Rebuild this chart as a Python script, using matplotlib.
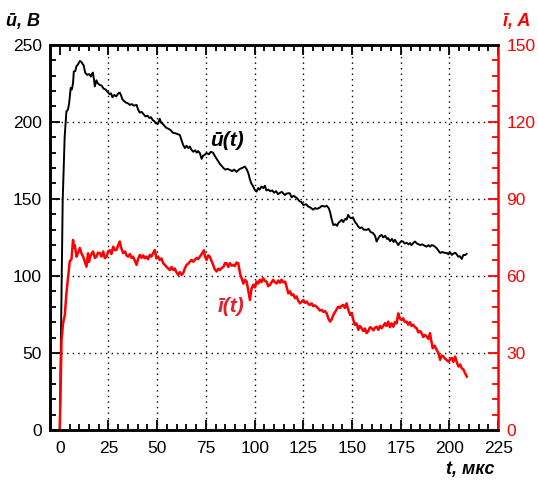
import matplotlib
matplotlib.use("Agg")
import matplotlib.pyplot as plt
from matplotlib.ticker import MultipleLocator

plt.rcParams["font.family"] = ["Liberation Sans", "DejaVu Sans"]

# voltage u(t), V
t_u = [0.0, 1.5, 2.5, 3.4, 4.2, 4.8, 5.6, 6.2, 6.8, 7.2, 8.0, 8.5, 9.2, 10.3, 11.0, 11.5,
       12.3, 13.0, 14.0, 15.0, 16.0, 16.5, 17.0, 17.5, 18.0, 18.8, 19.5, 20.5, 21.5, 22.5,
       23.5, 24.8, 25.5, 26.3, 27.0, 28.0, 29.0, 30.0, 30.8, 31.5, 32.2, 33.0, 34.0, 35.0,
       36.0, 37.0, 38.0, 39.4, 40.2, 41.0, 42.0, 43.0, 44.0, 45.0, 46.0, 46.8, 47.8, 48.5,
       49.3, 50.5, 51.3, 52.0, 53.0, 54.0, 54.8, 55.8, 57.0, 58.0, 59.5, 60.5, 61.6, 62.5,
       63.3, 64.2, 65.0, 66.0, 66.8, 67.5, 68.5, 69.5, 70.3, 71.0, 71.9, 72.8, 73.5, 74.3,
       75.3, 76.5, 77.5, 78.7, 79.5, 80.5, 81.3, 82.0, 83.0, 84.0, 85.0, 86.0, 87.3, 88.5,
       89.5, 90.7, 91.5, 92.5, 93.5, 95.0, 96.0, 96.8, 97.5, 98.3, 99.3, 100.0, 101.0,
       101.8, 102.5, 103.5, 104.5, 105.3, 106.0, 107.0, 108.0, 109.0, 110.0, 111.0, 112.0,
       113.0, 114.0, 115.5, 116.5, 118.0, 119.0, 120.0, 121.7, 123.0, 124.0, 125.0, 126.5,
       127.5, 128.5, 130.0, 131.0, 132.0, 133.4, 134.5, 136.0, 137.0, 138.0, 138.7, 139.5,
       140.4, 141.5, 142.3, 143.0, 144.0, 144.7, 145.5, 146.5, 147.2, 148.0, 148.8, 149.6,
       150.5, 151.5, 152.5, 153.2, 154.0, 155.0, 156.0, 157.5, 158.5, 159.5, 160.8, 161.8,
       162.6, 163.5, 164.3, 165.2, 166.0, 167.0, 168.0, 168.6, 169.5, 170.5, 171.3, 172.0,
       173.0, 173.7, 174.5, 175.3, 176.2, 177.0, 178.0, 179.0, 179.7, 180.5, 181.5, 182.3,
       183.3, 184.2, 184.9, 186.0, 187.3, 188.3, 189.2, 190.0, 190.9, 192.0, 193.4, 194.3,
       195.2, 196.3, 197.5, 198.6, 199.5, 200.2, 201.2, 202.0, 203.0, 203.7, 204.5, 205.3,
       206.3, 207.1, 208.0, 208.8]
u_vals = [0.0, 149.0, 190.0, 206.7, 208.0, 212.0, 222.0, 221.0, 225.0, 232.7, 233.0, 236.0,
          237.0, 239.5, 239.0, 238.0, 236.5, 232.0, 230.5, 231.0, 229.4, 231.0, 232.0, 228.0,
          223.0, 227.0, 225.0, 224.0, 223.5, 221.5, 221.0, 219.0, 218.0, 218.5, 216.0, 217.5,
          216.5, 218.5, 219.0, 217.0, 214.5, 213.5, 212.5, 212.0, 211.0, 211.5, 210.5, 211.0,
          208.0, 206.0, 206.5, 205.0, 203.5, 204.0, 202.5, 203.0, 201.0, 200.5, 199.0, 199.0,
          202.0, 199.5, 198.5, 197.0, 196.0, 195.5, 194.5, 193.0, 192.5, 192.0, 191.5, 188.0,
          185.0, 183.0, 184.5, 183.0, 184.0, 182.0, 180.6, 181.5, 180.0, 181.0, 179.7, 176.0,
          178.0, 178.5, 179.7, 179.0, 180.5, 180.0, 178.0, 176.0, 174.5, 173.0, 171.5, 170.0,
          169.0, 169.5, 168.8, 168.0, 169.0, 167.5, 168.5, 169.5, 170.0, 171.0, 169.0, 166.6,
          163.0, 160.0, 158.0, 156.0, 154.7, 157.0, 156.0, 158.0, 157.0, 158.5, 155.5, 156.0,
          155.0, 155.5, 154.0, 155.0, 153.0, 154.0, 154.5, 152.5, 153.5, 153.7, 151.0, 152.0,
          150.5, 148.5, 148.0, 146.0, 146.5, 145.0, 144.5, 143.0, 144.0, 143.5, 144.3, 145.5,
          145.0, 145.5, 144.0, 141.6, 137.0, 133.0, 133.5, 132.5, 134.4, 135.5, 136.4, 135.0,
          137.0, 136.5, 139.6, 138.0, 137.5, 138.0, 135.0, 133.5, 132.0, 131.0, 131.5, 130.0,
          129.9, 130.5, 128.5, 127.8, 126.0, 122.3, 124.5, 126.0, 126.6, 125.0, 126.0, 124.0,
          124.5, 122.5, 124.0, 122.0, 123.4, 121.5, 120.0, 121.5, 122.5, 122.3, 121.0, 121.5,
          120.5, 121.3, 120.0, 121.5, 122.3, 121.0, 120.5, 120.0, 120.5, 119.5, 119.0, 120.0,
          119.0, 120.0, 119.5, 118.0, 116.5, 114.9, 115.5, 115.0, 114.9, 114.0, 115.5, 113.6,
          114.5, 115.0, 114.0, 112.5, 112.8, 111.0, 113.6, 113.5, 114.3]

# current i(t), A
t_i = [0.0, 0.9, 1.7, 2.6, 3.4, 4.3, 5.1, 6.0, 6.8, 7.3, 7.7, 8.6, 9.4, 10.3, 11.0, 12.0,
       12.8, 13.7, 14.5, 15.0, 15.4, 16.2, 17.1, 18.0, 18.8, 19.6, 20.5, 21.4, 22.3, 23.1,
       24.0, 24.8, 25.7, 26.5, 27.4, 28.2, 29.1, 30.0, 30.8, 31.5, 32.5, 33.5, 34.2, 35.1,
       36.0, 36.8, 37.6, 38.5, 39.4, 40.2, 41.1, 42.0, 42.8, 43.6, 44.5, 45.3, 46.2, 47.0,
       48.0, 48.8, 49.6, 50.5, 51.3, 52.2, 53.1, 53.9, 54.8, 55.6, 56.5, 57.3, 58.2, 59.0,
       59.8, 60.8, 61.6, 62.5, 63.3, 64.2, 65.1, 66.0, 66.8, 67.6, 68.5, 69.3, 70.2, 71.0,
       71.9, 72.8, 74.0, 74.6, 75.3, 76.2, 77.0, 77.8, 78.7, 79.6, 80.5, 81.3, 82.2, 83.0,
       84.0, 84.8, 85.6, 86.5, 87.3, 88.2, 89.0, 89.8, 90.7, 91.6, 92.5, 93.3, 94.2, 95.0,
       95.9, 96.8, 97.6, 98.4, 99.3, 100.2, 101.0, 101.8, 102.7, 103.5, 104.4, 105.3, 106.1,
       107.0, 107.9, 108.7, 109.5, 110.4, 111.3, 112.1, 113.0, 113.8, 114.7, 115.6, 116.5,
       117.3, 118.2, 119.0, 119.9, 120.7, 121.5, 122.4, 123.3, 124.2, 125.0, 125.9, 126.7,
       127.6, 128.4, 129.3, 130.1, 131.0, 131.8, 132.7, 133.5, 134.4, 135.3, 136.1, 137.0,
       137.8, 138.7, 139.5, 140.4, 141.3, 142.1, 143.0, 143.8, 144.6, 145.5, 146.3, 147.2,
       148.0, 149.0, 149.8, 150.6, 151.5, 152.3, 153.2, 154.0, 154.9, 155.8, 156.6, 157.5,
       158.3, 159.2, 160.1, 161.0, 161.8, 162.6, 163.5, 164.3, 165.2, 166.0, 166.9, 167.7,
       168.6, 169.4, 170.3, 171.2, 172.0, 172.9, 173.7, 174.5, 175.4, 176.2, 177.1, 178.0,
       178.8, 179.7, 180.5, 181.4, 182.3, 183.2, 184.0, 184.9, 185.7, 186.6, 187.4, 188.3,
       189.2, 190.0, 190.7, 191.4, 192.4, 193.4, 194.3, 195.2, 196.0, 196.9, 197.7, 198.6,
       199.5, 200.3, 201.2, 202.0, 202.9, 203.7, 204.6, 205.5, 206.3, 207.2, 208.0, 208.9]
i_vals = [0.0, 35.0, 41.6, 44.8, 53.2, 59.7, 65.6, 66.5, 74.0, 71.0, 72.0, 67.5, 69.0, 70.9,
          69.0, 67.5, 65.6, 63.6, 68.8, 65.5, 66.8, 68.5, 69.5, 67.0, 67.5, 69.0, 68.9, 67.5,
          69.5, 66.9, 67.5, 69.5, 70.0, 68.5, 71.4, 70.0, 70.1, 72.0, 73.4, 71.0, 68.9, 69.5,
          68.0, 67.5, 68.5, 67.0, 67.5, 66.0, 64.3, 66.5, 68.2, 67.0, 68.0, 66.9, 67.5, 66.5,
          68.2, 67.5, 69.0, 70.1, 66.8, 67.5, 66.2, 66.8, 64.9, 64.3, 63.5, 62.9, 62.3, 63.5,
          62.3, 62.9, 61.5, 60.4, 61.5, 60.4, 61.0, 63.0, 64.3, 64.8, 65.6, 66.2, 65.5, 66.2,
          67.0, 66.5, 67.5, 68.5, 70.0, 67.5, 66.2, 68.0, 67.5, 66.0, 64.3, 62.5, 61.7, 62.8,
          62.3, 63.0, 63.5, 65.0, 64.9, 63.5, 65.0, 64.0, 64.3, 63.8, 65.2, 64.9, 61.0, 59.1,
          57.0, 58.5, 57.8, 54.0, 50.6, 55.0, 56.6, 55.5, 57.8, 57.0, 58.5, 57.5, 59.1, 58.0,
          57.8, 56.0, 56.5, 57.5, 58.5, 57.5, 57.1, 58.2, 57.3, 58.5, 57.5, 57.8, 55.5, 53.2,
          54.0, 52.5, 52.8, 51.3, 52.0, 50.3, 49.3, 50.0, 50.6, 49.5, 50.0, 49.0, 48.7, 49.3,
          48.2, 48.5, 48.0, 47.3, 46.5, 46.8, 46.0, 46.3, 45.4, 43.5, 42.2, 43.0, 44.8, 46.0,
          47.0, 48.0, 47.5, 48.3, 48.7, 47.5, 49.3, 47.0, 44.8, 45.5, 43.0, 40.9, 41.5, 39.0,
          40.5, 39.6, 38.5, 39.5, 37.7, 38.5, 40.0, 39.6, 38.8, 39.8, 40.2, 39.0, 40.5, 39.6,
          40.5, 41.6, 40.5, 42.2, 40.0, 41.5, 40.2, 42.0, 41.5, 45.4, 43.5, 42.8, 43.5, 42.0,
          42.2, 41.0, 42.0, 40.5, 41.0, 40.0, 39.6, 38.0, 38.5, 37.7, 36.2, 37.0, 36.4, 35.5,
          37.7, 34.5, 31.8, 32.8, 31.2, 30.0, 27.3, 29.0, 28.6, 27.8, 27.2, 26.6, 27.5, 28.0,
          26.5, 28.6, 26.5, 24.7, 25.5, 24.0, 23.5, 22.1, 20.8]

RED = "#ff0000"

fig = plt.figure(figsize=(5.38, 4.82), dpi=100)
ax = fig.add_axes([0.093, 0.108, 0.833, 0.799])
ax2 = ax.twinx()

ax.plot(t_u, u_vals, color="black", linewidth=1.4)
ax2.plot(t_i, i_vals, color=RED, linewidth=1.8)

ax.set_xlim(-5, 225)
ax.set_ylim(0, 250)
ax2.set_ylim(0, 150)

ax.xaxis.set_major_locator(MultipleLocator(25))
ax.xaxis.set_minor_locator(MultipleLocator(5))
ax.yaxis.set_major_locator(MultipleLocator(50))
ax.yaxis.set_minor_locator(MultipleLocator(10))
ax2.yaxis.set_major_locator(MultipleLocator(30))
ax2.yaxis.set_minor_locator(MultipleLocator(6))

ax.tick_params(axis="x", which="both", direction="in", top=True, bottom=True,
               labelsize=12.5, width=1.3, pad=8)
ax.tick_params(axis="x", which="major", length=7)
ax.tick_params(axis="x", which="minor", length=4)
ax.tick_params(axis="y", which="both", direction="in", right=False,
               labelsize=12.5, width=1.3, pad=6)
ax.tick_params(axis="y", which="major", length=7)
ax.tick_params(axis="y", which="minor", length=4)
ax2.tick_params(axis="y", which="both", direction="in", colors=RED,
                labelsize=12.5, width=1.3, pad=6)
ax2.tick_params(axis="y", which="major", length=7)
ax2.tick_params(axis="y", which="minor", length=4)

ax.set_xticks([0, 25, 50, 75, 100, 125, 150, 175, 200, 225])

# dotted grid
for x in range(25, 225, 25):
    ax.axvline(x, color="black", linestyle=(0, (1, 3)), linewidth=1.0, zorder=0)
for y in range(50, 250, 50):
    ax.axhline(y, color="black", linestyle=(0, (1, 3)), linewidth=1.0, zorder=0)

for side in ["left", "top", "bottom"]:
    ax.spines[side].set_linewidth(1.8)
    ax2.spines[side].set_linewidth(1.8)
ax2.spines["right"].set_color(RED)
ax2.spines["right"].set_linewidth(1.8)
ax.spines["right"].set_visible(False)

lbl = dict(fontsize=13, fontweight="bold", style="italic")
fig.text(0.012, 0.955, "ū, B", color="black", ha="left", va="center", **lbl)
fig.text(0.985, 0.955, "ī, A", color=RED, ha="right", va="center", **lbl)
fig.text(0.92, 0.025, "t, мкс", color="black", ha="right", va="center", **lbl)

ax.text(86, 188, "ū(t)", color="black", ha="center", va="center",
        fontsize=15, fontweight="bold", style="italic")
ax.text(88, 80, "ī(t)", color="#e0202a", ha="center", va="center",
        fontsize=15, fontweight="bold", style="italic")

fig.savefig("out.png", dpi=100)
